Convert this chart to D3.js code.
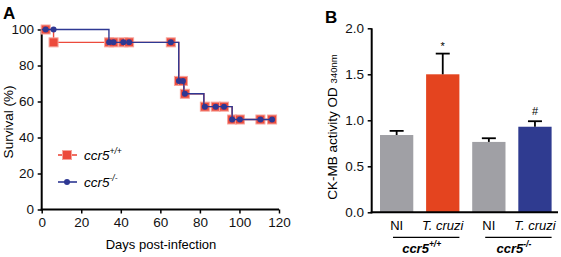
<!DOCTYPE html>
<html><head><meta charset="utf-8">
<script src="https://cdn.jsdelivr.net/npm/d3@7"></script>
<style>
body{margin:0;background:#fff}
svg{display:block;font-family:"Liberation Sans",Arial,sans-serif}
</style></head>
<body><svg id="c" width="561" height="257"></svg>
<script>
// ---- Panel A data ----
const xTicksA = [0,20,40,60,80,100,120];
const yTicksA = [0,20,40,60,80,100];
const stepsWT = [[0,100],[6,100],[6,92.86],[69.3,92.86],[69.3,71.43],[71.9,71.43],[71.9,64.29],[82,64.29],[82,57.14],[96.3,57.14],[96.3,50],[116.5,50]];
const stepsKO = [[0,100],[34,100],[34,92.86],[69.3,92.86],[69.3,71.43],[71.9,71.43],[71.9,64.29],[82,64.29],[82,57.14],[96.3,57.14],[96.3,50],[116.5,50]];
const marksWT = [[2,100],[6,92.86],[34.1,92.86],[36.3,92.86],[41.3,92.86],[44.2,92.86],[65.3,92.86],[69.4,71.43],[71.4,71.43],[72.4,64.29],[82.5,57.14],[88,57.14],[92.2,57.14],[96.3,50],[100.2,50],[110.6,50],[116.5,50]];
const marksKO = [[2,100],[6,100],[34.1,92.86],[36.3,92.86],[41.3,92.86],[44.2,92.86],[65.3,92.86],[69.4,71.43],[71.4,71.43],[72.4,64.29],[82.5,57.14],[88,57.14],[92.2,57.14],[96.3,50],[100.2,50],[110.6,50],[116.5,50]];
// ---- Panel B data ----
const barCats = ["NI1","TC1","NI2","TC2"];
const barLabels = ["NI","T. cruzi","NI","T. cruzi"];
const barValues = [0.84,1.50,0.765,0.93];
const barErrors = [0.045,0.225,0.04,0.06];
const barMarks = ["","*","","#"];
const yTicksB = [0.0,0.5,1.0,1.5,2.0];

const RED="#ec4a3c", BLUE="#2e3893";
const svg = d3.select("#c");

// ===== Panel A =====
const xA = d3.scaleLinear().domain([0,120]).range([41.7,279]);
const yA = d3.scaleLinear().domain([0,100]).range([209.5,29.5]);
const gA = svg.append("g");
const axXA = gA.append("g").attr("transform",`translate(0,${yA(0)})`)
  .call(d3.axisBottom(xA).tickValues(xTicksA).tickSize(4).tickSizeOuter(0));
const axYA = gA.append("g").attr("transform",`translate(${xA(0)},0)`)
  .call(d3.axisLeft(yA).tickValues(yTicksA).tickSize(4).tickSizeOuter(0));
[axXA,axYA].forEach(a=>{
  a.select(".domain").attr("stroke","#000").attr("stroke-width",2);
  a.selectAll(".tick line").attr("stroke","#000").attr("stroke-width",1.5);
  a.selectAll(".tick text").attr("font-size",13.5).attr("fill","#111").attr("font-family","Liberation Sans, Arial, sans-serif");
});
axXA.selectAll(".tick text").attr("dy","0.8em");
axYA.selectAll(".tick text").attr("dx","-0.05em");
axXA.select(".domain").attr("d",`M${xA(0)-1},0H${xA(120)}`);
axYA.select(".domain").attr("d",`M0,${yA(100)}V${yA(0)+1}`);

const line = d3.line().x(d=>xA(d[0])).y(d=>yA(d[1]));
gA.append("path").datum(stepsWT).attr("d",line).attr("fill","none").attr("stroke",RED).attr("stroke-width",1.4);
gA.selectAll(".sq").data(marksWT).join("rect").attr("class","sq")
  .attr("x",d=>xA(d[0])-4.5).attr("y",d=>yA(d[1])-4.5).attr("width",9).attr("height",9)
  .attr("fill",RED).attr("stroke","#f6a49b").attr("stroke-width",1);
gA.append("path").datum(stepsKO).attr("d",line).attr("fill","none").attr("stroke",BLUE).attr("stroke-width",1.4);
gA.selectAll(".dt").data(marksKO).join("circle").attr("class","dt")
  .attr("cx",d=>xA(d[0])).attr("cy",d=>yA(d[1])).attr("r",3).attr("fill",BLUE);

gA.append("text").attr("x",161).attr("y",249).attr("text-anchor","middle").attr("font-size",13).text("Days post-infection");
gA.append("text").attr("transform","translate(13,122) rotate(-90)").attr("text-anchor","middle").attr("font-size",13.5).text("Survival (%)");
gA.append("text").attr("x",3).attr("y",19).attr("font-size",17).attr("font-weight","bold").text("A");

// legend
const leg = [{y:155,sq:true,name:"ccr5",sup:"+/+"},{y:182,sq:false,name:"ccr5",sup:"-/-"}];
leg.forEach(l=>{
  const c = l.sq?RED:BLUE;
  gA.append("line").attr("x1",58).attr("x2",77).attr("y1",l.y).attr("y2",l.y).attr("stroke",c).attr("stroke-width",1.6);
  if(l.sq) gA.append("rect").attr("x",62.5).attr("y",l.y-4.5).attr("width",9).attr("height",9).attr("fill",RED).attr("stroke","#f6a49b");
  else gA.append("circle").attr("cx",67).attr("cy",l.y).attr("r",3).attr("fill",BLUE);
  const t = gA.append("text").attr("x",84).attr("y",l.y+5).attr("font-size",13.5).attr("font-style","italic");
  t.append("tspan").text(l.name);
  t.append("tspan").attr("font-size",8.5).attr("dy",-6).text(l.sup);
});

// ===== Panel B =====
const xB = d3.scaleBand().domain(barCats).range([371.7,559.9]).paddingInner(0.278).paddingOuter(0.18);
const yB = d3.scaleLinear().domain([0,2]).range([212.3,28.3]);
const colors = ["#a0a0a5","#e4441f","#a0a0a5","#2f3b90"];
const gB = svg.append("g");
gB.selectAll(".bar").data(barCats).join("rect").attr("class","bar")
  .attr("x",d=>xB(d)).attr("width",xB.bandwidth())
  .attr("y",(d,i)=>yB(barValues[i])).attr("height",(d,i)=>yB(0)-yB(barValues[i]))
  .attr("fill",(d,i)=>colors[i]);
// error bars
barCats.forEach((c,i)=>{
  const cx = xB(c)+xB.bandwidth()/2;
  const top = yB(barValues[i]+barErrors[i]);
  gB.append("line").attr("x1",cx).attr("x2",cx).attr("y1",yB(barValues[i])).attr("y2",top).attr("stroke","#000").attr("stroke-width",1.8);
  gB.append("line").attr("x1",cx-7).attr("x2",cx+7).attr("y1",top).attr("y2",top).attr("stroke","#000").attr("stroke-width",1.8);
  if(barMarks[i]) gB.append("text").attr("x",cx).attr("y",top-(barMarks[i]==="*"?4:6)).attr("text-anchor","middle")
    .attr("font-size",11).text(barMarks[i]);
});
const axYB = gB.append("g").attr("transform",`translate(371.7,0)`)
  .call(d3.axisLeft(yB).tickValues(yTicksB).tickFormat(d3.format(".1f")).tickSize(4).tickSizeOuter(0));
axYB.select(".domain").attr("stroke","#000").attr("stroke-width",2).attr("d",`M0,${yB(2)}V${yB(0)+1}`);
axYB.selectAll(".tick line").attr("stroke","#000").attr("stroke-width",1.5);
axYB.selectAll(".tick text").attr("font-size",13.5).attr("fill","#111").attr("font-family","Liberation Sans, Arial, sans-serif").attr("dx","-0.05em");
gB.append("line").attr("x1",370.7).attr("x2",558).attr("y1",yB(0)).attr("y2",yB(0)).attr("stroke","#000").attr("stroke-width",2);
// x labels
barCats.forEach((c,i)=>{
  gB.append("text").attr("x",xB(c)+xB.bandwidth()/2).attr("y",229.5).attr("text-anchor","middle")
    .attr("font-size",13).attr("font-style",i%2?"italic":"normal").text(barLabels[i]);
});
// group lines and labels
const groups = [{a:"NI1",b:"TC1",sup:"+/+"},{a:"NI2",b:"TC2",sup:"-/-"}];
groups.forEach(g=>{
  const x1 = xB(g.a)+13, x2 = xB(g.b)+xB.bandwidth();
  gB.append("line").attr("x1",x1).attr("x2",x2).attr("y1",237.3).attr("y2",237.3).attr("stroke","#000").attr("stroke-width",1.3);
  const t = gB.append("text").attr("x",(xB(g.a)+x2)/2+2).attr("y",252.5).attr("text-anchor","middle")
    .attr("font-size",13).attr("font-weight","bold").attr("font-style","italic");
  t.append("tspan").text("ccr5");
  t.append("tspan").attr("font-size",8.5).attr("dy",-6).text(g.sup);
});
const yl = gB.append("text").attr("transform","translate(337,127) rotate(-90)").attr("text-anchor","middle").attr("font-size",13.5);
yl.append("tspan").text("CK-MB activity OD ");
yl.append("tspan").attr("font-size",9.5).text("340nm");
gB.append("text").attr("x",325).attr("y",23).attr("font-size",17).attr("font-weight","bold").text("B");
</script></body></html>
